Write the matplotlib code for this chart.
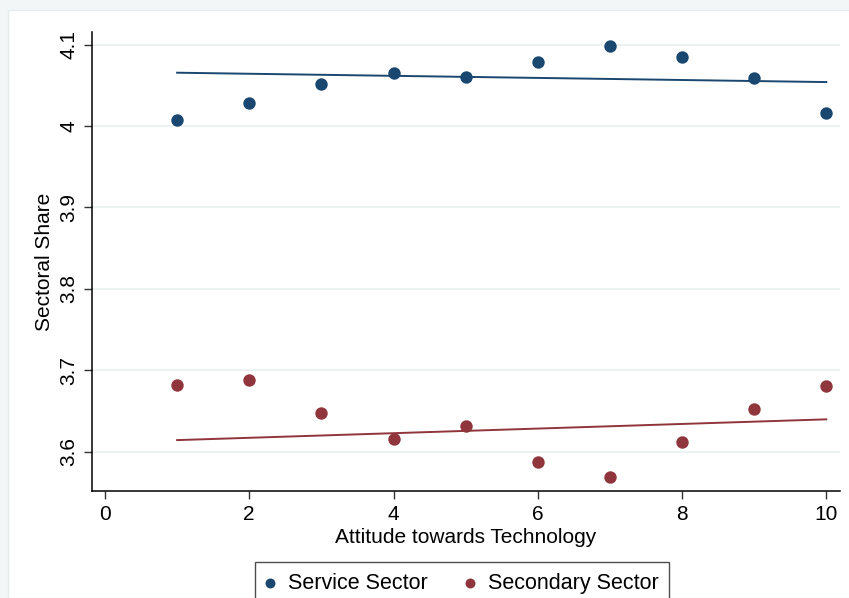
import matplotlib
matplotlib.use("Agg")
import matplotlib.pyplot as plt
from matplotlib.patches import Rectangle

plt.rcParams['font.family'] = ['Liberation Sans', 'DejaVu Sans']

# Binned means of sectoral share by attitude towards technology
attitude = [1, 2, 3, 4, 5, 6, 7, 8, 9, 10]
service = [4.008, 4.028, 4.0515, 4.065, 4.060, 4.079, 4.098, 4.085, 4.0585, 4.0156]
secondary = [3.6816, 3.6887, 3.6479, 3.6152, 3.6315, 3.5877, 3.5686, 3.6123, 3.652, 3.681]

# Linear fit lines (endpoints at the first and last bin)
fit_x = [1, 10]
service_fit = [4.0655, 4.054]
secondary_fit = [3.6143, 3.6398]

xticks = [0, 2, 4, 6, 8, 10]
yticks = [3.6, 3.7, 3.8, 3.9, 4.0, 4.1]
ytick_labels = ['3.6', '3.7', '3.8', '3.9', '4', '4.1']

navy = '#1a476f'
maroon = '#90353b'
grid_c = '#eaf0f1'

W, H = 849, 598
fig = plt.figure(figsize=(W / 100, H / 100), dpi=100, facecolor='#f3f6f6')
# white graph region inside a thin light frame
fig.patches.append(Rectangle((8 / W, 0), 1, 1 - 10 / H, transform=fig.transFigure,
                             facecolor='white', edgecolor='#e6eced', lw=1.0, zorder=-5))

ax = fig.add_axes([92 / W, 1 - 491 / H, (840 - 92) / W, (491 - 32) / H])
ax.set_facecolor('white')

ax.scatter(attitude, service, s=80, color=navy, zorder=3, label='Service Sector', linewidths=0)
ax.scatter(attitude, secondary, s=80, color=maroon, zorder=3, label='Secondary Sector', linewidths=0)
ax.plot(fit_x, service_fit, color=navy, lw=1.4, zorder=2)
ax.plot(fit_x, secondary_fit, color=maroon, lw=1.4, zorder=2)

ax.set_xlim(-0.18, 10.19)
ax.set_ylim(3.5518, 4.1155)
ax.set_xticks(xticks)
ax.set_yticks(yticks)
ax.set_yticklabels(ytick_labels, rotation=90, va='center')
ax.tick_params(axis='both', labelsize=15, length=6, width=1, color='#333333', pad=4)

ax.grid(axis='y', color=grid_c, lw=1.3)
ax.set_axisbelow(True)
for s in ['top', 'right']:
    ax.spines[s].set_visible(False)
for s in ['left', 'bottom']:
    ax.spines[s].set_linewidth(1.1)
    ax.spines[s].set_color('black')

ax.set_xlabel('Attitude towards Technology', fontsize=15, labelpad=3)
ax.set_ylabel('Sectoral Share', fontsize=15, labelpad=4)

leg = fig.legend(loc='upper left', bbox_to_anchor=(255 / W, 1 - 562 / H), ncol=2,
                 fontsize=15.5, frameon=True, fancybox=False, markerscale=0.8,
                 handletextpad=0.63, columnspacing=1.75, borderpad=0.5,
                 handlelength=0.4, borderaxespad=0)
leg.get_frame().set_edgecolor('#222222')
leg.get_frame().set_linewidth(1.0)

fig.savefig('out.png', dpi=100, facecolor=fig.get_facecolor())
